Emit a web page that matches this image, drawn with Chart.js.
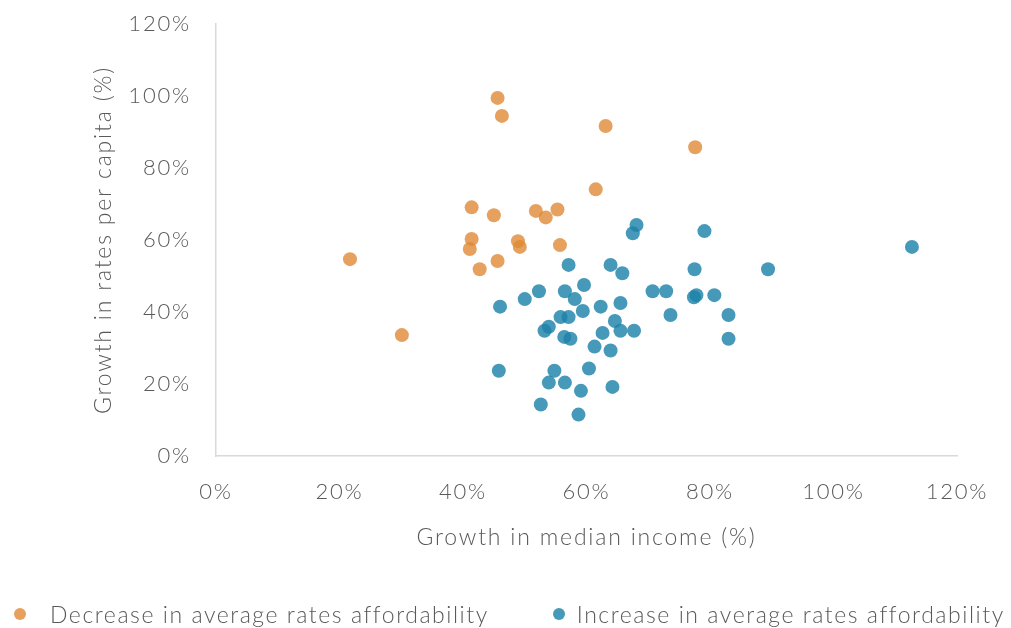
<!DOCTYPE html>
<html lang="en">
  <head>
    <meta charset="UTF-8" />
    <title>Rates growth vs income growth</title>
    <script src="https://cdn.jsdelivr.net/npm/chart.js"></script>
    <style>
      html, body { margin: 0; padding: 0; background: #fff; }
      .chart-box { width: 1011px; height: 628px; position: relative; }
      .legend {
        position: absolute;
        left: 0;
        top: 600px;
        height: 28px;
        display: flex;
        align-items: center;
        font-family: Lato, "Open Sans", sans-serif;
        font-weight: 300;
        font-size: 23px;
        letter-spacing: 1.55px;
        color: #595959;
        white-space: nowrap;
      }
      .legend .item { display: flex; align-items: center; }
      .legend .dot {
        width: 12px;
        height: 12px;
        border-radius: 50%;
        display: inline-block;
      }
      .legend .item:nth-child(1) .dot { margin-left: 14px; margin-right: 24px; }
      .legend .item:nth-child(2) .dot { margin-left: 64px; margin-right: 12px; }
    </style>
  </head>
  <body>
    <div class="chart-box">
      <canvas id="scatterChart"></canvas>
      <div class="legend" id="legend"></div>
    </div>

    <script>
      // Values (in %)
      const decreaseX = [45.6, 46.3, 63.1, 77.6, 61.5, 41.4, 45.0, 51.8, 53.4, 55.3, 41.4, 41.1, 48.9, 49.2, 55.7, 21.7, 45.6, 42.7, 30.1];
      const decreaseY = [99.5, 94.5, 91.7, 85.8, 74.1, 69.1, 66.9, 68.1, 66.3, 68.5, 60.3, 57.5, 59.7, 58.1, 58.6, 54.7, 54.2, 51.9, 33.6];

      const increaseX = [68.1, 67.5, 79.1, 57.1, 63.9, 65.8, 77.5, 59.6, 52.3, 56.5, 70.7, 72.9, 50.0, 58.1, 77.8, 77.4, 80.7, 46.0, 59.4, 62.3, 65.5, 73.6, 83.0, 55.8, 57.1, 64.6, 53.9, 53.2, 62.6, 65.5, 67.7, 56.4, 57.4, 83.0, 61.3, 63.9, 45.8, 54.8, 60.4, 53.9, 56.5, 59.1, 64.2, 52.6, 58.7, 89.4, 112.7];
      const increaseY = [64.2, 61.9, 62.5, 53.1, 53.1, 50.8, 51.9, 47.5, 45.8, 45.8, 45.8, 45.8, 43.6, 43.6, 44.7, 44.1, 44.7, 41.5, 40.3, 41.5, 42.5, 39.2, 39.2, 38.6, 38.6, 37.5, 35.9, 34.8, 34.2, 34.8, 34.8, 33.1, 32.6, 32.6, 30.4, 29.3, 23.7, 23.7, 24.3, 20.4, 20.4, 18.1, 19.2, 14.3, 11.5, 51.9, 58.1];

      const axisTicks = [0, 20, 40, 60, 80, 100, 120];

      const seriesLabels = ["Decrease in average rates affordability", "Increase in average rates affordability"];

      function toPoints(xs, ys) {
        return xs.map((x, i) => ({ x: x, y: ys[i] }));
      }

      const textColor = "#595959";
      const fontFamily = "Lato, 'Open Sans', sans-serif";

      // the original font is wider than Lato, so spread the letters a little
      const letterSpacingPlugin = {
        id: "letterSpacing",
        beforeLayout(chart) {
          chart.ctx.letterSpacing = "1.8px";
        },
        beforeDraw(chart) {
          chart.ctx.letterSpacing = "1.8px";
        },
      };

      // legend below the plot, built from the chart's own datasets
      function buildLegend(chart) {
        const box = document.getElementById("legend");
        box.innerHTML = "";
        chart.data.datasets.forEach((ds) => {
          const item = document.createElement("div");
          item.className = "item";
          const dot = document.createElement("span");
          dot.className = "dot";
          dot.style.background = ds.backgroundColor;
          const label = document.createElement("span");
          label.textContent = ds.label;
          item.appendChild(dot);
          item.appendChild(label);
          box.appendChild(item);
        });
      }

      document.addEventListener("DOMContentLoaded", () => {
        const ctx = document.getElementById("scatterChart").getContext("2d");
        const chart = new Chart(ctx, {
          type: "scatter",
          plugins: [letterSpacingPlugin],
          data: {
            datasets: [
              {
                label: seriesLabels[0],
                data: toPoints(decreaseX, decreaseY),
                backgroundColor: "rgba(222, 137, 52, 0.8)",
                borderWidth: 0,
                pointRadius: 7,
              },
              {
                label: seriesLabels[1],
                data: toPoints(increaseX, increaseY),
                backgroundColor: "rgba(30, 130, 170, 0.82)",
                borderWidth: 0,
                pointRadius: 7,
              },
            ],
          },
          options: {
            responsive: true,
            maintainAspectRatio: false,
            animation: false,
            layout: { padding: { left: 0, right: 0, top: 0, bottom: 0 } },
            plugins: {
              tooltip: { enabled: false },
              legend: { display: false },
            },
            scales: {
              x: {
                type: "linear",
                min: 0,
                max: 120,
                afterBuildTicks: (axis) => {
                  axis.ticks = axisTicks.map((v) => ({ value: v }));
                },
                afterFit: (axis) => {
                  axis.height = 172;
                },
                grid: { display: false },
                border: { display: true, color: "#d9d9d9", width: 1.5 },
                ticks: {
                  padding: 15,
                  color: textColor,
                  font: { family: fontFamily, size: 22, weight: "300" },
                  callback: (v) => v + "%",
                },
                title: {
                  display: true,
                  text: "Growth in median income (%)",
                  color: textColor,
                  font: { family: fontFamily, size: 23, weight: "300" },
                  padding: { top: 14, bottom: 77 },
                },
              },
              y: {
                type: "linear",
                min: 0,
                max: 120,
                afterBuildTicks: (axis) => {
                  axis.ticks = axisTicks.map((v) => ({ value: v }));
                },
                afterFit: (axis) => {
                  axis.width = 216;
                },
                grid: { display: false },
                border: { display: true, color: "#d9d9d9", width: 1.5 },
                ticks: {
                  padding: 17,
                  color: textColor,
                  font: { family: fontFamily, size: 22, weight: "300", lineHeight: 0.65 },
                  callback: (v) => v + "%",
                },
                title: {
                  display: true,
                  text: "Growth in rates per capita (%)",
                  color: textColor,
                  font: { family: fontFamily, size: 23, weight: "300" },
                  padding: { top: 90, bottom: 4 },
                },
              },
              // empty axis that keeps the plot's right edge where the original has it
              spacer: {
                type: "linear",
                position: "right",
                afterFit: (axis) => {
                  axis.width = 54;
                },
                grid: { display: false },
                border: { display: false },
                ticks: { display: false },
              },
            },
          },
        });
        buildLegend(chart);
      });
    </script>
  </body>
</html>
